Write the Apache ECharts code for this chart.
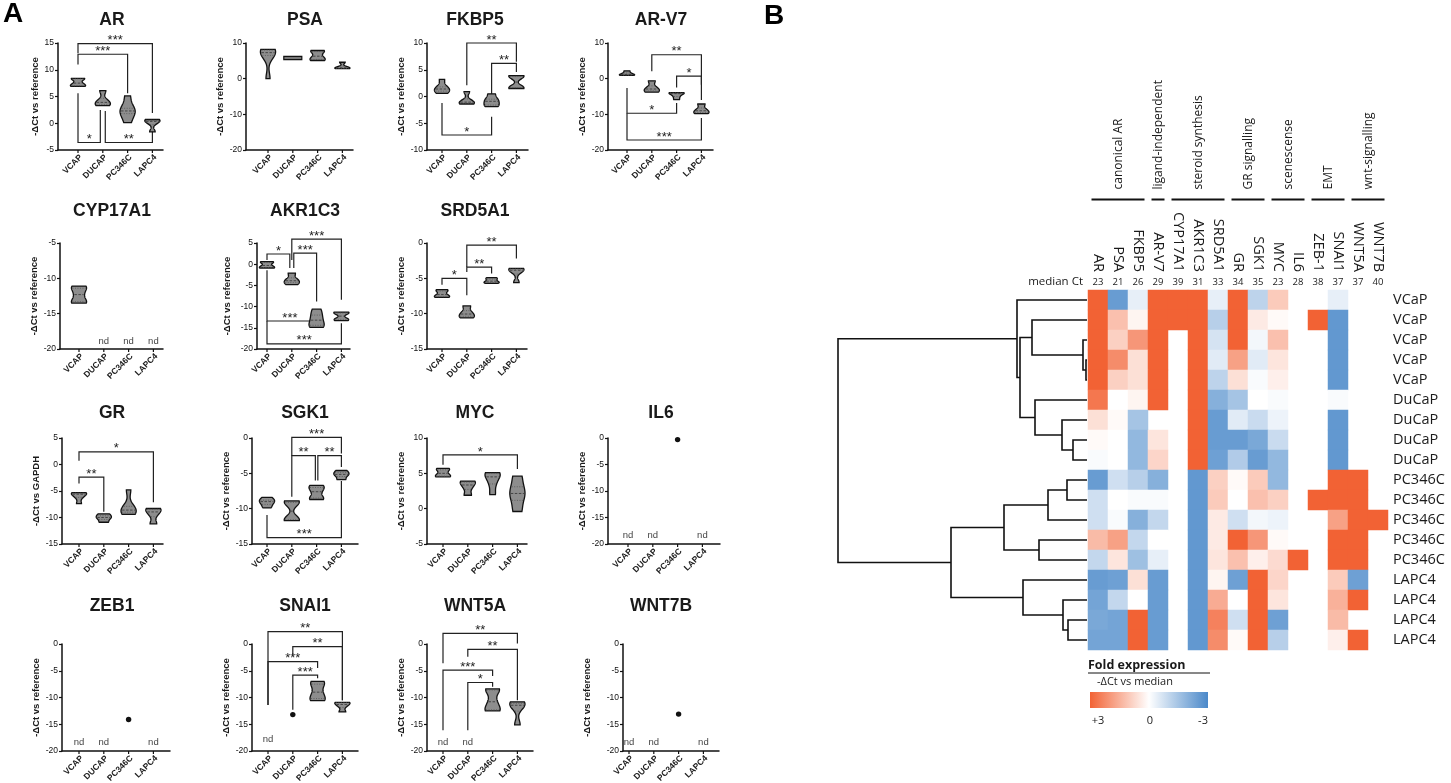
<!DOCTYPE html>
<html><head><meta charset="utf-8">
<script src="https://cdn.jsdelivr.net/npm/echarts@6/dist/echarts.min.js"></script>
<style>html,body{margin:0;padding:0;background:#fff}#c{width:1451px;height:783px}</style>
</head><body><div id="c"></div>
<script>
// ================= DATA =================
const cellLines = ['VCAP','DUCAP','PC346C','LAPC4'];
const genesA = ['AR','PSA','FKBP5','AR-V7','CYP17A1','AKR1C3','SRD5A1','GR','SGK1','MYC','IL6','ZEB1','SNAI1','WNT5A','WNT7B'];
const yNameRef = '-ΔCt vs reference';
const yNameGAPDH = '-ΔCt vs GAPDH';

// replicate -ΔCt values per cell line ([] = not detected)
const valsAR     = [[8.4,8.3,7.5,7.0,6.9],[6.1,4.2,3.6,3.3],[5.1,2.8,2.3,1.8,0.1],[0.7,0.5,0.2,-1.6]];
const valsPSA    = [[8.2,8.0,7.3,6.5,0.0],[5.9,5.8,5.8,5.7],[7.9,7.6,6.3,5.4,5.1],[4.6,3.2,2.9,2.8]];
const valsFKBP5  = [[3.2,1.8,1.4,1.0,0.6],[0.9,-0.9,-1.2,-1.4],[0.5,-0.5,-0.9,-1.6,-1.9],[3.9,3.7,1.7,1.5]];
const valsARV7   = [[2.2,1.6,1.2,1.0,0.9],[-0.6,-2.5,-3.3,-3.8],[-3.9,-4.0,-4.2,-5.0,-5.9],[-7.1,-8.6,-9.4,-9.8]];
const valsCYP17A1= [[-11.1,-11.4,-12.3,-13.3,-13.5],[],[],[]];
const valsAKR1C3 = [[0.6,0.4,-0.3,-0.8,-0.9],[-2.1,-3.6,-4.2,-4.8],[-10.6,-12.0,-13.2,-14.4,-14.9],[-11.3,-11.6,-12.9,-13.3]];
const valsSRD5A1 = [[-6.6,-6.8,-7.3,-7.6,-7.7],[-8.9,-9.8,-10.3,-10.6],[-4.9,-5.1,-5.4,-5.6,-5.7],[-3.6,-3.7,-4.0,-5.6]];
const valsGR     = [[-5.3,-5.4,-5.6,-6.2,-7.4],[-9.3,-9.8,-10.2,-10.9],[-4.8,-7.9,-8.6,-9.0,-9.4],[-8.3,-8.5,-9.4,-11.2]];
const valsSGK1   = [[-8.4,-8.8,-9.0,-9.4,-9.9],[-8.9,-9.2,-11.5,-11.7],[-6.7,-7.0,-7.6,-8.5,-8.7],[-4.6,-5.0,-5.3,-5.9]];
const valsMYC    = [[5.7,5.5,5.0,4.6,4.5],[3.9,3.7,3.0,1.9],[5.1,5.0,4.5,3.5,2.0],[4.6,2.6,1.7,-0.4]];
const valsIL6    = [[],[],[-0.3],[]];
const valsZEB1   = [[],[],[-14.1],[]];
const valsSNAI1  = [[],[-13.2],[-7.0,-7.5,-9.0,-10.2,-10.6],[-10.9,-11.0,-11.6,-12.7]];
const valsWNT5A  = [[],[],[-8.4,-8.6,-10.8,-12.3,-12.5],[-10.8,-11.2,-11.7,-15.1]];
const valsWNT7B  = [[],[],[-13.1],[]];

// y axis [min, max, interval]
const axisAR=[-5,15,5], axisPSA=[-20,10,10], axisFKBP5=[-10,10,5], axisARV7=[-20,10,10],
      axisCYP17A1=[-20,-5,5], axisAKR1C3=[-20,5,5], axisSRD5A1=[-15,0,5],
      axisGR=[-15,5,5], axisSGK1=[-15,0,5], axisMYC=[-5,10,5], axisIL6=[-20,0,5],
      axisZEB1=[-20,0,5], axisSNAI1=[-20,0,5], axisWNT5A=[-20,0,5], axisWNT7B=[-20,0,5];

// "nd" label level
const ndLevel = [null,null,null,null,-18.9,null,null,null,null,null,-18.4,-18.3,-17.8,-18.3,-18.3];

// significance brackets: [catA, catB, bracketY, legEndA, legEndB, label]
const sigAR    = [[0,3,14.9,13.1,1.9,'***'],[0,2,12.9,11.0,5.6,'***'],[0,0.9,-3.6,5.6,2.5,'*'],[1.1,3,-3.6,2.3,-1.3,'**']];
const sigFKBP5 = [[1,3,10.0,2.1,6.5,'**'],[2,3,6.2,0.3,4.6,'**'],[0,2,-7.2,-1.2,-3.8,'*']];
const sigARV7  = [[1,3,6.7,2.1,-1.7,'**'],[2,3,0.7,-2.5,-6.0,'*'],[0,2,-9.7,-2.6,-6.8,'*'],[0,3,-17.2,-9.7,-11.0,'***']];
const sigAKR1C3= [[1,3,5.9,1.0,-8.4,'***'],[0,0.92,2.4,1.0,-0.9,'*'],[1.08,2,2.6,-0.9,-8.8,'***'],[0,1.85,-13.4,-1.4,-13.4,'***'],[0,3,-18.8,-13.4,-13.9,'***']];
const sigSRD5A1= [[0,1,-5.0,-5.9,-7.4,'*'],[1,2,-3.4,-4.1,-4.3,'**'],[1,3,-0.3,-3.4,-2.2,'**']];
const sigGR    = [[0,3,2.4,0.7,-7.1,'*'],[0,1,-2.4,-3.6,-8.9,'**']];
const sigSGK1  = [[1,3,0.1,-2.5,-2.2,'***'],[1,1.95,-2.5,-8.3,-6.0,'**'],[2.05,3,-2.5,-6.0,-4.1,'**'],[0,3,-14.1,-10.9,-6.1,'***']];
const sigMYC   = [[0,3,7.6,6.2,5.6,'*']];
const sigSNAI1 = [[0,3,2.3,-11.4,-10.5,'**'],[1,3,-0.5,-2.1,-10.5,'**'],[0,2,-3.3,-11.4,-4.5,'***'],[1,2,-5.8,-12.3,-6.4,'***']];
const sigWNT5A = [[0,3,2.0,-3.6,0.1,'**'],[1,3,-1.0,-2.4,-10.5,'**'],[0,2,-4.9,-16.1,-6.0,'***'],[1,2,-7.2,-16.1,-8.0,'*']];

// ---- Panel B ----
const heatGenes = ['AR','PSA','FKBP5','AR-V7','CYP17A1','AKR1C3','SRD5A1','GR','SGK1','MYC','IL6','ZEB-1','SNAI1','WNT5A','WNT7B'];
const medianCt = [23,21,26,29,39,31,33,34,35,23,28,38,37,37,40];
const sampleLabels = ['VCaP','VCaP','VCaP','VCaP','VCaP','DuCaP','DuCaP','DuCaP','DuCaP','PC346C','PC346C','PC346C','PC346C','PC346C','LAPC4','LAPC4','LAPC4','LAPC4'];
const N = null;
// fold expression (-ΔCt vs median), clipped to ±3; null = not detected
const foldExpr = [
 [ 3.0,-2.5,-0.4, 3.0, 3.0, 3.0,-0.4, 3.0,-1.1, 1.0, N, N,-0.4, N, N],
 [ 3.0, 1.2, 0.2, 3.0, 3.0, 3.0,-1.2, 3.0, 0.4, 0.1, N, 3.0,-2.6, N, N],
 [ 3.0, 0.9, 2.0, 3.0, N, 3.0,-0.7, 3.0,-0.2, 1.2, N, N,-2.6, N, N],
 [ 3.0, 2.2, 0.6, 3.0, N, 3.0,-0.5, 1.8,-0.5, 0.5, N, N,-2.6, N, N],
 [ 3.0, 0.9, 0.6, 3.0, N, 3.0,-1.1, 0.6,-0.1, 0.3, N, N,-2.6, N, N],
 [ 2.6, 0.0, 0.2, 3.0, N, 3.0,-2.0,-1.5, 0.0,-0.1, N, N,-0.1, N, N],
 [ 0.6, 0.1,-1.5, N, N, 3.0,-2.5,-0.5,-0.9,-0.3, N, N,-2.6, N, N],
 [ 0.1, 0.0,-1.8, 0.5, N, 3.0,-2.5,-2.5,-2.2,-0.9, N, N,-2.6, N, N],
 [-0.1, 0.0,-1.8, 0.8, N, 3.0,-2.4,-1.3,-2.5,-1.8, N, N,-2.6, N, N],
 [-2.5,-0.8,-1.2,-2.0, N,-2.6, 0.9, 0.1, 1.0,-1.8, N, N, 3.0, 3.0, N],
 [-0.8, 0.0,-0.1,-0.1, N,-2.6, 1.0, 0.0, 1.2, 0.9, N, 3.0, 3.0, 3.0, N],
 [-0.8,-0.1,-2.0,-1.0, N,-2.6, 0.4,-0.8,-0.2,-0.3, N, N, 1.8, 3.0, 3.0],
 [ 1.3, 1.8,-1.0, 0.0, N,-2.6, 0.4, 3.0, 2.0, 0.1, N, N, 3.0, 3.0, N],
 [-1.0, 0.5,-1.6,-0.4, N,-2.6, 0.5, 1.2, 0.3, 0.7, 3.0, N, 3.0, 3.0, N],
 [-2.5,-2.4, 0.6,-2.5, N,-2.6, 0.2,-2.4, 3.0, 0.8, N, N, 1.0,-2.4, N],
 [-2.3,-1.0, 0.0,-2.5, N,-2.6, 1.6, 0.0, 3.0, 0.5, N, N, 1.5, 3.0, N],
 [-2.2,-2.3, 3.0,-2.5, N,-2.6, 2.4,-0.8, 3.0,-2.4, N, N, 1.3, N, N],
 [-2.3,-2.3, 3.0,-2.5, N,-2.6, 2.2, 0.1, 3.0,-1.2, N, N, 0.3, 3.0, N]
];
const geneGroups = [['canonical AR',0,2],['ligand-independent',3,3],['steroid synthesis',4,6],['GR signalling',7,8],['scenescense',9,10],['EMT',11,12],['wnt-signalling',13,14]];
// hierarchical clustering merges: [childA, childB, height]; leaves 0..17, nodes 18..
const dendroMerges = [[3,4,0.1],[2,18,0.4],[1,19,5.5],[7,8,1.4],[6,21,2.5],[5,22,5.2],[20,23,6.7],[0,24,7.0],
  [9,10,2.0],[26,11,3.9],[12,13,4.8],[27,28,8.3],[16,17,1.9],[15,30,2.4],[14,31,6.4],[29,32,13.6],[25,33,24.9]];
const legendTicks = ['+3','0','-3'];
const colorScale = ['#4A88C9','#FFFFFF','#F26234'];

// ================= LAYOUT =================
const FA = "'Liberation Sans', Arial, sans-serif";
const FB = "'Open Sans', 'Noto Sans', sans-serif";
const rowsY = [[43,150],[243,349],[438,544],[644,751]];
const titleY = [20.5,211.5,413,606];
const colTitleX = [112,305,475,661];
const colNameX = [40,228,402,588];
const S = 24.8;
const layoutA = [
 {row:0,col:0,ax:58,c0:78,r:163},{row:0,col:1,ax:246,c0:268,r:353},{row:0,col:2,ax:427,c0:442,r:528},{row:0,col:3,ax:608,c0:627,r:713},
 {row:1,col:0,ax:60,c0:79,r:163},{row:1,col:1,ax:257,c0:267,r:350},{row:1,col:2,ax:427,c0:442,r:527},
 {row:2,col:0,ax:62,c0:79,r:163},{row:2,col:1,ax:252,c0:267,r:358},{row:2,col:2,ax:427,c0:443,r:527},{row:2,col:3,ax:608,c0:628,r:720},
 {row:3,col:0,ax:62,c0:79,r:170},{row:3,col:1,ax:252,c0:268,r:358},{row:3,col:2,ax:427,c0:443,r:533},{row:3,col:3,ax:623,c0:629,r:719}
];

const panels = [
 {vals:valsAR, axis:axisAR, sig:sigAR}, {vals:valsPSA, axis:axisPSA, sig:[]},
 {vals:valsFKBP5, axis:axisFKBP5, sig:sigFKBP5}, {vals:valsARV7, axis:axisARV7, sig:sigARV7},
 {vals:valsCYP17A1, axis:axisCYP17A1, sig:[]}, {vals:valsAKR1C3, axis:axisAKR1C3, sig:sigAKR1C3},
 {vals:valsSRD5A1, axis:axisSRD5A1, sig:sigSRD5A1}, {vals:valsGR, axis:axisGR, sig:sigGR},
 {vals:valsSGK1, axis:axisSGK1, sig:sigSGK1}, {vals:valsMYC, axis:axisMYC, sig:sigMYC},
 {vals:valsIL6, axis:axisIL6, sig:[]}, {vals:valsZEB1, axis:axisZEB1, sig:[]},
 {vals:valsSNAI1, axis:axisSNAI1, sig:sigSNAI1}, {vals:valsWNT5A, axis:axisWNT5A, sig:sigWNT5A},
 {vals:valsWNT7B, axis:axisWNT7B, sig:[]}
];
panels.forEach((p,i)=>{ p.gene=genesA[i]; p.nd=ndLevel[i]; p.yName = genesA[i]==='GR' ? yNameGAPDH : yNameRef; });

function quant(s, q){ const pos=(s.length-1)*q, lo=Math.floor(pos), hi=Math.ceil(pos); return s[lo]+(s[hi]-s[lo])*(pos-lo); }

function makeViolinRender(p){
  return function(params, api){
    const cat = api.value(0);
    const vals = p.vals[cat];
    const base = api.coord([cat, p.axis[0]]);
    const x = base[0], yb = base[1];
    const ch = [];
    ch.push({type:'line', shape:{x1:x,y1:yb,x2:x,y2:yb+3}, style:{stroke:'#111', lineWidth:1.2}});
    ch.push({type:'text', x:x+3, y:yb+6, rotation:Math.PI/4,
      style:{text:cellLines[cat], fontSize:8.5, fontWeight:'bold', fontFamily:FA, fill:'#1a1a1a', align:'right', verticalAlign:'middle'}});
    if (vals.length===0){
      if (p.nd!=null){ const q=api.coord([cat,p.nd]);
        ch.push({type:'text', x:q[0], y:q[1], style:{text:'nd', fontSize:9.5, fontFamily:FA, fill:'#444', align:'center', verticalAlign:'middle'}}); }
    } else if (vals.length===1){
      const q=api.coord([cat,vals[0]]);
      ch.push({type:'circle', shape:{cx:q[0],cy:q[1],r:2.7}, style:{fill:'#111'}});
    } else {
      const s=[...vals].sort((a,b)=>a-b);
      const mn=s[0], mx=s[s.length-1];
      const span=p.axis[1]-p.axis[0];
      const HW=7.6;
      if (mx-mn < span*0.02){
        const y1=api.coord([cat,mx])[1]-1.2, y2=api.coord([cat,mn])[1]+1.2;
        ch.push({type:'rect', shape:{x:x-9,y:y1,width:18,height:y2-y1}, style:{fill:'#777', stroke:'#111', lineWidth:1.2}});
      } else {
        const h=0.22*(mx-mn), NS=48, ys=[], ds=[];
        for(let k=0;k<=NS;k++){ const v=mn+(mx-mn)*k/NS; let d=0; s.forEach(t=>{ d+=Math.exp(-0.5*((v-t)/h)*((v-t)/h)); }); ys.push(v); ds.push(d); }
        const dm=Math.max(...ds);
        const wAt=v=>{ const f=(v-mn)/(mx-mn)*NS; const lo=Math.max(0,Math.min(NS,Math.floor(f))), hi=Math.min(NS,lo+1); const t=f-lo; return HW*((ds[lo]*(1-t)+ds[hi]*t)/dm); };
        const right=ys.map((v,k)=>[x+HW*ds[k]/dm, api.coord([cat,v])[1]]);
        const left=ys.map((v,k)=>[x-HW*ds[k]/dm, api.coord([cat,v])[1]]).reverse();
        ch.push({type:'polygon', shape:{points:right.concat(left)}, style:{fill:'#8d8d8d', stroke:'#111', lineWidth:1.3}});
        const med=quant(s,0.5), q1=quant(s,0.25), q3=quant(s,0.75);
        [[q1,[1,1.5],'#555'],[q3,[1,1.5],'#555'],[med,[2.5,1.5],'#333']].forEach(([v,dash,col])=>{
          const w=wAt(v)-1, yy=api.coord([cat,v])[1];
          ch.push({type:'line', shape:{x1:x-w,y1:yy,x2:x+w,y2:yy}, style:{stroke:col, lineWidth:0.8, lineDash:dash}});
        });
      }
    }
    return {type:'group', children:ch};
  };
}
function makeSigRender(p){
  return function(params, api){
    const b=p.sig[params.dataIndex];
    const a1=api.coord([b[0],b[3]]), a2=api.coord([b[0],b[2]]), c2=api.coord([b[1],b[2]]), c1=api.coord([b[1],b[4]]);
    return {type:'group', children:[
      {type:'polyline', shape:{points:[a1,a2,c2,c1]}, style:{stroke:'#222', lineWidth:1.2, fill:null}},
      {type:'text', x:(a2[0]+c2[0])/2, y:a2[1]-3, style:{text:b[5], fontSize:13, fontFamily:FA, fill:'#222', align:'center', verticalAlign:'middle'}}
    ]};
  };
}

const grids=[], xAxes=[], yAxes=[], series=[], graphics=[];
panels.forEach((p,i)=>{
  const L=layoutA[i]; const [top,bot]=rowsY[L.row];
  grids.push({left:L.ax, top:top, width:L.r-L.ax, height:bot-top});
  xAxes.push({gridIndex:i, type:'value', min:(L.ax-L.c0)/S, max:(L.r-L.c0)/S,
    axisLine:{show:true,onZero:false,lineStyle:{color:'#111',width:1.5}}, axisTick:{show:false}, axisLabel:{show:false}, splitLine:{show:false}});
  yAxes.push({gridIndex:i, type:'value', min:p.axis[0], max:p.axis[1], interval:p.axis[2],
    axisLine:{show:true,onZero:false,lineStyle:{color:'#111',width:1.5}},
    axisTick:{show:true,length:3,lineStyle:{color:'#111',width:1.2}},
    axisLabel:{fontSize:8.5, margin:4, color:'#111', fontFamily:FA}, splitLine:{show:false},
    name:p.yName, nameLocation:'middle', nameRotate:90, nameGap:(L.ax-colNameX[L.col])-4.8,
    nameTextStyle:{fontSize:9.5, fontWeight:'bold', color:'#1a1a1a', fontFamily:FA}});
  series.push({type:'custom', xAxisIndex:i, yAxisIndex:i, clip:false, silent:true, renderItem:makeViolinRender(p),
    data:[[0,0],[1,0],[2,0],[3,0]], encode:{x:0,y:1}, z:3});
  if (p.sig.length) series.push({type:'custom', xAxisIndex:i, yAxisIndex:i, clip:false, silent:true, renderItem:makeSigRender(p),
    data:p.sig.map(b=>[b[0],b[2]]), encode:{x:0,y:1}, z:2});
  graphics.push({type:'text', x:colTitleX[L.col], y:titleY[L.row],
    style:{text:p.gene, fontSize:17.5, fontWeight:'bold', fontFamily:FA, fill:'#1a1a1a', align:'center', verticalAlign:'middle'}});
});

// ---- Panel B heatmap ----
const HG = grids.length;
grids.push({left:1088, top:290, width:300, height:360});
const hx = xAxes.length;
xAxes.push({gridIndex:HG, type:'category', data:heatGenes, position:'top', axisLine:{show:false}, axisTick:{show:false}, splitLine:{show:false},
  axisLabel:{rotate:90, margin:18, fontSize:14.5, fontFamily:FB, color:'#1a1a1a', interval:0}});
xAxes.push({gridIndex:HG, type:'category', data:medianCt.map(String), position:'top', axisLine:{show:false}, axisTick:{show:false}, splitLine:{show:false},
  axisLabel:{margin:3, fontSize:9.5, fontFamily:FB, color:'#1a1a1a', interval:0}});
const hy = yAxes.length;
yAxes.push({gridIndex:HG, type:'category', data:sampleLabels.map((s,i)=>'r'+i), inverse:true, position:'right',
  axisLine:{show:false}, axisTick:{show:false}, splitLine:{show:false},
  axisLabel:{margin:5, fontSize:14.5, fontFamily:FB, color:'#1a1a1a', interval:0, formatter:(v,idx)=>sampleLabels[idx]}});
const heatData=[];
foldExpr.forEach((row,r)=>row.forEach((v,c)=>{ if(v!==null) heatData.push([c,r,v]); }));
const heatSeriesIndex = series.length;
series.push({type:'heatmap', xAxisIndex:hx, yAxisIndex:hy, data:heatData, silent:true, itemStyle:{borderWidth:0}, emphasis:{disabled:true}});
// group labels above
series.push({type:'custom', xAxisIndex:hx, yAxisIndex:hy, clip:false, silent:true,
  data:geneGroups.map(g=>[g[1],0]), encode:{x:0,y:1},
  renderItem:function(params, api){
    const g=geneGroups[params.dataIndex];
    const sz=api.size([1,1]);
    const pa=api.coord([g[1],0]), pb=api.coord([g[2],0]);
    const top=pa[1]-sz[1]/2;
    const xl=pa[0]-sz[0]/2+3.5, xr=pb[0]+sz[0]/2-3.5, ly=top-90.5;
    return {type:'group', children:[
      {type:'line', shape:{x1:xl,y1:ly,x2:xr,y2:ly}, style:{stroke:'#111', lineWidth:2}},
      {type:'text', x:(xl+xr)/2+1, y:ly-10, rotation:Math.PI/2, style:{text:g[0], fontSize:12, fontFamily:FB, fill:'#1a1a1a', align:'left', verticalAlign:'middle'}}
    ]};
  }});
// dendrogram
const DG = grids.length;
grids.push({left:838, top:290, width:249, height:360});
const dx = xAxes.length;
xAxes.push({gridIndex:DG, type:'value', min:0, max:24.9, inverse:true, show:false});
const dy = yAxes.length;
yAxes.push({gridIndex:DG, type:'value', min:-0.5, max:17.5, inverse:true, show:false});
const nodePos=[], nodeH=[];
for(let i=0;i<18;i++){ nodePos.push(i); nodeH.push(0); }
dendroMerges.forEach(m=>{ nodePos.push((nodePos[m[0]]+nodePos[m[1]])/2); nodeH.push(m[2]); });
series.push({type:'custom', xAxisIndex:dx, yAxisIndex:dy, clip:false, silent:true,
  data:dendroMerges.map((m,k)=>[m[2], nodePos[18+k]]), encode:{x:0,y:1},
  renderItem:function(params, api){
    const m=dendroMerges[params.dataIndex];
    const pts=[api.coord([nodeH[m[0]],nodePos[m[0]]]), api.coord([m[2],nodePos[m[0]]]), api.coord([m[2],nodePos[m[1]]]), api.coord([nodeH[m[1]],nodePos[m[1]]])];
    return {type:'polyline', shape:{points:pts}, style:{stroke:'#111', lineWidth:1.6, fill:null}};
  }});

// static texts / legend
graphics.push({type:'text', x:3, y:14, style:{text:'A', fontSize:28, fontWeight:'bold', fontFamily:FA, fill:'#000', align:'left', verticalAlign:'middle'}});
graphics.push({type:'text', x:764, y:16, style:{text:'B', fontSize:28, fontWeight:'bold', fontFamily:FA, fill:'#000', align:'left', verticalAlign:'middle'}});
graphics.push({type:'text', x:1083, y:282, style:{text:'median Ct', fontSize:11.5, fontFamily:FB, fill:'#1a1a1a', align:'right', verticalAlign:'middle'}});
graphics.push({type:'text', x:1088, y:665, style:{text:'Fold expression', fontSize:12.5, fontWeight:'bold', fontFamily:FB, fill:'#1a1a1a', align:'left', verticalAlign:'middle'}});
graphics.push({type:'line', shape:{x1:1088,y1:673,x2:1210,y2:673}, style:{stroke:'#111', lineWidth:1}});
graphics.push({type:'text', x:1097, y:682, style:{text:'-ΔCt vs median', fontSize:11, fontFamily:FB, fill:'#1a1a1a', align:'left', verticalAlign:'middle'}});
graphics.push({type:'rect', shape:{x:1090,y:692,width:118,height:16},
  style:{fill:new echarts.graphic.LinearGradient(0,0,1,0,[{offset:0,color:colorScale[2]},{offset:0.5,color:colorScale[1]},{offset:1,color:colorScale[0]}])}});
[1098,1150,1203].forEach((x,i)=>graphics.push({type:'text', x:x, y:721, style:{text:legendTicks[i], fontSize:11, fontFamily:FB, fill:'#1a1a1a', align:'center', verticalAlign:'middle'}}));

const chart = echarts.init(document.getElementById('c'), null, {width:1451, height:783});
chart.setOption({
  animation:false, backgroundColor:'#fff',
  grid:grids, xAxis:xAxes, yAxis:yAxes, series:series,
  visualMap:[{type:'continuous', min:-3, max:3, seriesIndex:heatSeriesIndex, show:false, inRange:{color:colorScale}}],
  graphic:graphics
});
</script></body></html>
